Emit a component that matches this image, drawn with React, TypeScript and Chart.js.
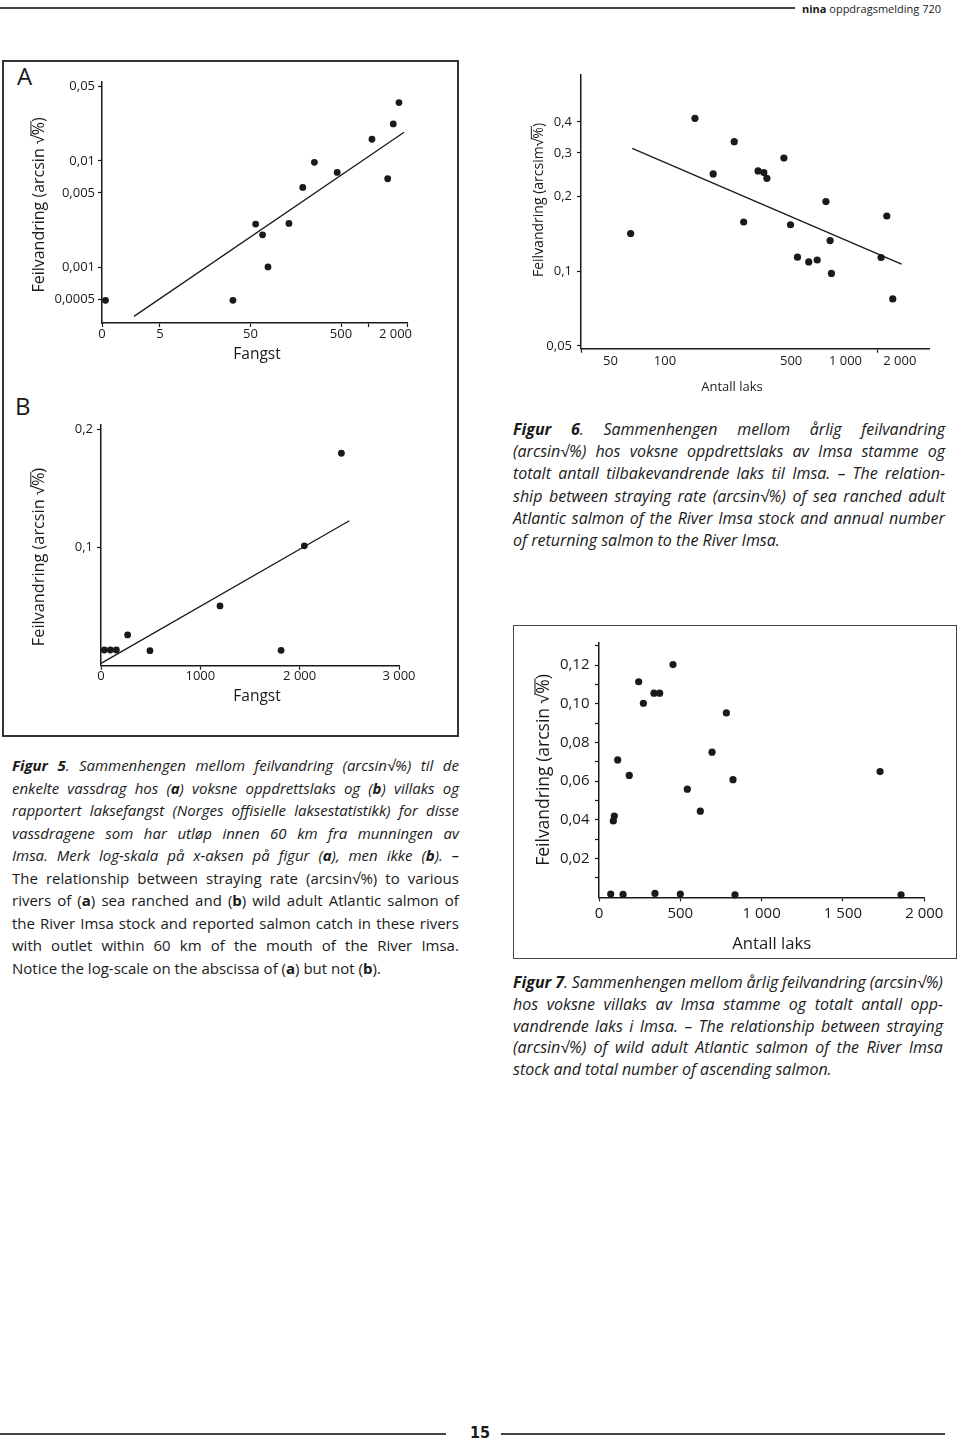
import React, { useEffect, useRef } from 'react';
import { Chart, registerables } from 'chart.js';

Chart.register(...registerables);

const FONT = '"Open Sans", "Noto Sans", "DejaVu Sans", sans-serif';
const INK = '#1a1a1a';
Chart.defaults.font.family = FONT;
Chart.defaults.color = INK;

// ---------------- Figur 5 (a): log–log ----------------
const A_CATCH = [1.25, 32, 57, 68, 78, 133, 189, 254, 454, 1099, 1640, 1890, 2185];
const A_STRAY = [0.00049, 0.00049, 0.00255, 0.00202, 0.00101, 0.00259, 0.00564, 0.0097, 0.0078, 0.016, 0.0068, 0.0223, 0.0354];
const A_FIT_X = [2.58, 2487];
const A_FIT_Y = [0.000346, 0.0186];
const A_X_RANGE: [number, number] = [1.144, 2680];
const A_Y_RANGE: [number, number] = [0.000328, 0.0552];
const A_X_TICKS = [1.144, 5, 50, 500, 1000, 2000, 2680];
const A_X_LABELS = ['0', '5', '50', '500', '', '2 000', ''];
const A_X_NOMARK = [2000];
const A_Y_TICKS = [0.0005, 0.001, 0.005, 0.01, 0.05];
const A_Y_LABELS = ['0,0005', '0,001', '0,005', '0,01', '0,05'];

// ---------------- Figur 5 (b): linear ----------------
const B_CATCH = [33, 94, 154, 268, 493, 1198, 1813, 2047, 2420];
const B_STRAY = [0.0133, 0.0133, 0.0133, 0.026, 0.0127, 0.0506, 0.013, 0.1014, 0.1797];
const B_FIT_X = [0, 2500];
const B_FIT_Y = [0.002, 0.1226];
const B_X_RANGE: [number, number] = [0, 3000];
const B_Y_RANGE: [number, number] = [0, 0.2036];
const B_X_TICKS = [0, 1000, 2000, 3000];
const B_X_LABELS = ['0', '1000', '2 000', '3 000'];
const B_Y_TICKS = [0.1, 0.2];
const B_Y_LABELS = ['0,1', '0,2'];

// ---------------- Figur 6: log–log ----------------
const F6_RETURNS = [64.6, 146.6, 185, 242, 273, 328, 353, 367, 456, 496, 542, 626, 697, 779, 822, 836, 1574, 1693, 1827];
const F6_STRAY = [0.142, 0.414, 0.247, 0.333, 0.158, 0.254, 0.25, 0.237, 0.286, 0.154, 0.114, 0.109, 0.111, 0.191, 0.133, 0.098, 0.1136, 0.167, 0.0773];
const F6_FIT_X = [65.9, 2042];
const F6_FIT_Y = [0.313, 0.1069];
const F6_X_RANGE: [number, number] = [34.3, 2900];
const F6_Y_RANGE: [number, number] = [0.0487, 0.62];
const F6_X_TICKS = [34.3, 50, 100, 500, 1000, 1500, 2000];
const F6_X_LABELS = ['', '50', '100', '500', '1 000', '', '2 000'];
const F6_X_NOMARK = [50, 100, 500, 1000, 2000];
const F6_Y_TICKS = [0.05, 0.1, 0.2, 0.3, 0.4];
const F6_Y_LABELS = ['0,05', '0,1', '0,2', '0,3', '0,4'];

// ---------------- Figur 7: linear ----------------
const F7_RETURNS = [72, 148, 344, 500, 836, 1857, 88, 94, 115, 186, 244, 273, 338, 373, 455, 543, 623, 695, 783, 824, 1728];
const F7_STRAY = [0.0017, 0.0015, 0.002, 0.0017, 0.0013, 0.0013, 0.0395, 0.042, 0.071, 0.063, 0.1114, 0.1003, 0.1055, 0.1055, 0.1203, 0.0559, 0.0445, 0.075, 0.0953, 0.0608, 0.065];
const F7_X_RANGE: [number, number] = [0, 2000];
const F7_Y_RANGE: [number, number] = [0, 0.1317];
const F7_X_TICKS = [0, 500, 1000, 1500, 2000];
const F7_X_LABELS = ['0', '500', '1 000', '1 500', '2 000'];
const F7_Y_TICKS = [0.01, 0.02, 0.03, 0.04, 0.05, 0.06, 0.07, 0.08, 0.09, 0.1, 0.11, 0.12, 0.13];
const F7_Y_LABELS = ['', '0,02', '', '0,04', '', '0,06', '', '0,08', '', '0,10', '', '0,12', ''];

// ---------------- Captions ----------------
type CapLine = { t: string; i: boolean; j: boolean };
const FIG5_LINES: CapLine[] = [
  { t: '**Figur 5**. Sammenhengen mellom feilvandring (arcsin√%) til de', i: true, j: true },
  { t: 'enkelte vassdrag hos (**a**) voksne oppdrettslaks og (**b**) villaks og', i: true, j: true },
  { t: 'rapportert laksefangst (Norges offisielle laksestatistikk) for disse', i: true, j: true },
  { t: 'vassdragene som har utløp innen 60 km fra munningen av', i: true, j: true },
  { t: 'Imsa. Merk log-skala på x-aksen på figur (**a**), men ikke (**b**). –', i: true, j: true },
  { t: 'The relationship between straying rate (arcsin√%) to various', i: false, j: true },
  { t: 'rivers of (**a**) sea ranched and (**b**) wild adult Atlantic salmon of', i: false, j: true },
  { t: 'the River Imsa stock and reported salmon catch in these rivers', i: false, j: true },
  { t: 'with outlet within 60 km of the mouth of the River Imsa.', i: false, j: true },
  { t: 'Notice the log-scale on the abscissa of (**a**) but not (**b**).', i: false, j: false },
];
const FIG6_LINES: CapLine[] = [
  { t: '**Figur 6**. Sammenhengen mellom årlig feilvandring', i: true, j: true },
  { t: '(arcsin√%) hos voksne oppdrettslaks av Imsa stamme og', i: true, j: true },
  { t: 'totalt antall tilbakevandrende laks til Imsa. – The relation-', i: true, j: true },
  { t: 'ship between straying rate (arcsin√%) of sea ranched adult', i: true, j: true },
  { t: 'Atlantic salmon of the River Imsa stock and annual number', i: true, j: true },
  { t: 'of returning salmon to the River Imsa.', i: true, j: false },
];
const FIG7_LINES: CapLine[] = [
  { t: '**Figur 7**. Sammenhengen mellom årlig feilvandring (arcsin√%)', i: true, j: true },
  { t: 'hos voksne villaks av Imsa stamme og totalt antall opp-', i: true, j: true },
  { t: 'vandrende laks i Imsa. – The relationship between straying', i: true, j: true },
  { t: '(arcsin√%) of wild adult Atlantic salmon of the River Imsa', i: true, j: true },
  { t: 'stock and total number of ascending salmon.', i: true, j: false },
];

// ---------------- Chart helpers ----------------
type Title = { text: string; x: number; y: number; size: number; rotate?: boolean };

function titlePlugin(items: Title[]) {
  return {
    id: 'pageTitles',
    afterDraw(chart: any) {
      const ctx = chart.ctx as CanvasRenderingContext2D;
      for (const it of items) {
        ctx.save();
        ctx.fillStyle = INK;
        ctx.strokeStyle = INK;
        ctx.font = `${it.size}px ${FONT}`;
        ctx.textBaseline = 'alphabetic';
        ctx.translate(it.x, it.y);
        if (it.rotate) ctx.rotate(-Math.PI / 2);
        const base = it.size * 0.36;
        const idx = it.text.indexOf('√');
        if (idx >= 0) {
          const a = it.text.slice(0, idx + 1);
          const b = it.text.slice(idx + 1, idx + 2);
          const c = it.text.slice(idx + 2);
          const wa = ctx.measureText(a).width;
          const wb = ctx.measureText(b).width;
          const wc = ctx.measureText(c).width;
          const x0 = -(wa + wb + wc) / 2;
          ctx.textAlign = 'left';
          ctx.fillText(a, x0, base);
          ctx.fillText(b, x0 + wa, base);
          ctx.fillText(c, x0 + wa + wb, base);
          ctx.lineWidth = Math.max(1, it.size * 0.06);
          const oy = base - it.size * 0.8;
          ctx.beginPath();
          ctx.moveTo(x0 + wa - 0.8, oy);
          ctx.lineTo(x0 + wa + wb + 1, oy);
          ctx.stroke();
        } else {
          ctx.textAlign = 'center';
          ctx.fillText(it.text, 0, base);
        }
        ctx.restore();
      }
    },
  };
}

type Spec = {
  xs: number[]; ys: number[]; fitX?: number[]; fitY?: number[];
  xLog: boolean; yLog: boolean;
  xRange: [number, number]; yRange: [number, number];
  xTicks: number[]; xLabels: string[]; xNoMark?: number[];
  yTicks: number[]; yLabels: string[];
  w: number; h: number; area: [number, number, number, number];
  xFont: number; yFont: number; xTl: number; yTl: number; xPad: number; yPad: number;
  r: number; titles: Title[];
};

function buildConfig(s: Spec): any {
  const [l, t, r, b] = s.area;
  const datasets: any[] = [{
    data: s.xs.map((x, i) => ({ x, y: s.ys[i] })),
    pointRadius: s.r,
    pointBackgroundColor: INK,
    pointBorderWidth: 0,
    showLine: false,
    clip: false,
  }];
  if (s.fitX && s.fitY) {
    datasets.push({
      data: s.fitX.map((x, i) => ({ x, y: (s.fitY as number[])[i] })),
      showLine: true,
      borderColor: INK,
      borderWidth: 1.3,
      pointRadius: 0,
      fill: false,
      clip: false,
    });
  }
  return {
    type: 'scatter',
    data: { datasets },
    options: {
      animation: false,
      responsive: false,
      devicePixelRatio: 1,
      events: [],
      layout: { padding: { top: t, right: s.w - r, left: 0, bottom: 0 } },
      plugins: { legend: { display: false }, tooltip: { enabled: false } },
      scales: {
        x: {
          type: s.xLog ? 'logarithmic' : 'linear',
          position: 'bottom',
          min: s.xRange[0],
          max: s.xRange[1],
          afterBuildTicks: (sc: any) => { sc.ticks = s.xTicks.map((v) => ({ value: v })); },
          afterFit: (sc: any) => { sc.height = s.h - b; },
          ticks: {
            autoSkip: false, maxRotation: 0, minRotation: 0, padding: s.xPad,
            font: { size: s.xFont }, color: INK,
            callback: (_v: any, i: number) => s.xLabels[i] ?? '',
          },
          grid: {
            display: true, drawOnChartArea: false, drawTicks: true,
            tickLength: s.xTl, tickWidth: 1.2,
            tickColor: (c: any) => (s.xNoMark && c.tick && s.xNoMark.includes(c.tick.value)) ? 'rgba(0,0,0,0)' : INK,
          },
          border: { display: true, color: INK, width: 1.5 },
        },
        y: {
          type: s.yLog ? 'logarithmic' : 'linear',
          position: 'left',
          min: s.yRange[0],
          max: s.yRange[1],
          afterBuildTicks: (sc: any) => { sc.ticks = s.yTicks.map((v) => ({ value: v })); },
          afterFit: (sc: any) => { sc.width = l; },
          ticks: {
            autoSkip: false, padding: s.yPad,
            font: { size: s.yFont }, color: INK,
            callback: (_v: any, i: number) => s.yLabels[i] ?? '',
          },
          grid: {
            display: true, drawOnChartArea: false, drawTicks: true,
            tickLength: s.yTl, tickWidth: 1.2, tickColor: INK,
          },
          border: { display: true, color: INK, width: 1.5 },
        },
      },
    },
    plugins: [titlePlugin(s.titles)],
  };
}

function ChartCanvas({ left, top, spec }: { left: number; top: number; spec: Spec }) {
  const ref = useRef<HTMLCanvasElement>(null);
  useEffect(() => {
    const chart = new Chart(ref.current as HTMLCanvasElement, buildConfig(spec));
    return () => chart.destroy();
  }, []);
  return (
    <canvas
      ref={ref}
      width={spec.w}
      height={spec.h}
      style={{ position: 'absolute', left, top, width: spec.w, height: spec.h }}
    />
  );
}

// ---------------- Chart specs ----------------
const SPEC_A: Spec = {
  xs: A_CATCH, ys: A_STRAY, fitX: A_FIT_X, fitY: A_FIT_Y,
  xLog: true, yLog: true, xRange: A_X_RANGE, yRange: A_Y_RANGE,
  xTicks: A_X_TICKS, xLabels: A_X_LABELS, xNoMark: A_X_NOMARK,
  yTicks: A_Y_TICKS, yLabels: A_Y_LABELS,
  w: 450, h: 315, area: [97, 19, 402, 260],
  xFont: 13, yFont: 13, xTl: 4, yTl: 4, xPad: -0.5, yPad: 3,
  r: 3.4,
  titles: [
    { text: 'Feilvandring (arcsin √%)', x: 33, y: 142, size: 16, rotate: true },
    { text: 'Fangst', x: 252, y: 290, size: 15.5 },
  ],
};

const SPEC_B: Spec = {
  xs: B_CATCH, ys: B_STRAY, fitX: B_FIT_X, fitY: B_FIT_Y,
  xLog: false, yLog: false, xRange: B_X_RANGE, yRange: B_Y_RANGE,
  xTicks: B_X_TICKS, xLabels: B_X_LABELS,
  yTicks: B_Y_TICKS, yLabels: B_Y_LABELS,
  w: 450, h: 340, area: [96, 35, 394, 275.7],
  xFont: 13, yFont: 13, xTl: 4, yTl: 4, xPad: -1.5, yPad: 4,
  r: 3.4,
  titles: [
    { text: 'Feilvandring (arcsin √%)', x: 33, y: 167, size: 16.3, rotate: true },
    { text: 'Fangst', x: 252, y: 305, size: 15.5 },
  ],
};

const SPEC_6: Spec = {
  xs: F6_RETURNS, ys: F6_STRAY, fitX: F6_FIT_X, fitY: F6_FIT_Y,
  xLog: true, yLog: true, xRange: F6_X_RANGE, yRange: F6_Y_RANGE,
  xTicks: F6_X_TICKS, xLabels: F6_X_LABELS, xNoMark: F6_X_NOMARK,
  yTicks: F6_Y_TICKS, yLabels: F6_Y_LABELS,
  w: 450, h: 335, area: [76, 5, 424, 286.7],
  xFont: 13, yFont: 13, xTl: 4, yTl: 4, xPad: 1, yPad: 5,
  r: 3.6,
  titles: [
    { text: 'Feilvandring (arcsim√%)', x: 32.5, y: 138, size: 14, rotate: true },
    { text: 'Antall laks', x: 227, y: 324, size: 13 },
  ],
};

const SPEC_7: Spec = {
  xs: F7_RETURNS, ys: F7_STRAY,
  xLog: false, yLog: false, xRange: F7_X_RANGE, yRange: F7_Y_RANGE,
  xTicks: F7_X_TICKS, xLabels: F7_X_LABELS,
  yTicks: F7_Y_TICKS, yLabels: F7_Y_LABELS,
  w: 438, h: 328, area: [83, 7, 408.3, 269.3],
  xFont: 15, yFont: 15, xTl: 4, yTl: 4, xPad: 3, yPad: 5.5,
  r: 3.6,
  titles: [
    { text: 'Feilvandring (arcsin √%)', x: 26.7, y: 142, size: 17.5, rotate: true },
    { text: 'Antall laks', x: 255.7, y: 315, size: 16.7 },
  ],
};

// ---------------- Caption rendering ----------------
type Seg = { text: string; bold: boolean };
function parseLine(t: string): Seg[][] {
  const segs = t.split('**');
  const words: Seg[][] = [[]];
  segs.forEach((seg, si) => {
    const bold = si % 2 === 1;
    seg.split(' ').forEach((p, pi) => {
      if (pi > 0) words.push([]);
      if (p) words[words.length - 1].push({ text: p, bold });
    });
  });
  return words.filter((w) => w.length > 0);
}

function Word({ segs }: { segs: Seg[] }) {
  return (
    <span>
      {segs.map((s, k) => (s.bold ? <b key={k} style={{ fontWeight: 700 }}>{s.text}</b> : <span key={k}>{s.text}</span>))}
    </span>
  );
}

function Caption({ lines, left, top, width, size, lh }: { lines: CapLine[]; left: number; top: number; width: number; size: number; lh: number }) {
  return (
    <div style={{ position: 'absolute', left, top, width, fontSize: size, fontFamily: FONT, color: INK }}>
      {lines.map((ln, i) => {
        const words = parseLine(ln.t);
        const common: React.CSSProperties = {
          height: lh, lineHeight: `${lh}px`, whiteSpace: 'nowrap',
          fontStyle: ln.i ? 'italic' : 'normal',
        };
        if (ln.j) {
          return (
            <div key={i} style={{ ...common, display: 'flex', justifyContent: 'space-between' }}>
              {words.map((w, k) => <Word key={k} segs={w} />)}
            </div>
          );
        }
        return (
          <div key={i} style={common}>
            {words.map((w, k) => (
              <React.Fragment key={k}>{k > 0 ? ' ' : ''}<Word segs={w} /></React.Fragment>
            ))}
          </div>
        );
      })}
    </div>
  );
}

export default function App() {
  return (
    <div style={{ position: 'absolute', left: 0, top: 0, width: 960, height: 1442, background: '#fff', overflow: 'hidden', fontFamily: FONT, color: INK }}>
      {/* header */}
      <div style={{ position: 'absolute', left: 0, top: 7, width: 795, height: 2, background: '#444' }} />
      <div style={{ position: 'absolute', right: 19, top: 3, fontSize: 11, lineHeight: 1, whiteSpace: 'nowrap' }}>
        <b style={{ fontWeight: 700 }}>nina</b> oppdragsmelding 720
      </div>

      {/* Figur 5 frame */}
      <div style={{ position: 'absolute', left: 2, top: 60, width: 457, height: 677, border: '2px solid #333', boxSizing: 'border-box' }} />
      <div style={{ position: 'absolute', left: 17, top: 64, fontSize: 24, lineHeight: 1 }}>A</div>
      <div style={{ position: 'absolute', left: 15, top: 394, fontSize: 24, lineHeight: 1 }}>B</div>
      <ChartCanvas left={5} top={63} spec={SPEC_A} />
      <ChartCanvas left={5} top={390} spec={SPEC_B} />

      {/* Figur 6 */}
      <ChartCanvas left={505} top={62} spec={SPEC_6} />

      {/* Figur 7 frame */}
      <div style={{ position: 'absolute', left: 513, top: 625, width: 444, height: 334, border: '1.5px solid #444', boxSizing: 'border-box' }} />
      <ChartCanvas left={516} top={628} spec={SPEC_7} />

      {/* captions */}
      <Caption lines={FIG5_LINES} left={12} top={754} width={447} size={15} lh={22.5} />
      <Caption lines={FIG6_LINES} left={513} top={417.7} width={432} size={16} lh={22.3} />
      <Caption lines={FIG7_LINES} left={513} top={972.2} width={430} size={16} lh={21.75} />

      {/* footer */}
      <div style={{ position: 'absolute', left: 0, top: 1433, width: 446, height: 2, background: '#444' }} />
      <div style={{ position: 'absolute', left: 501, top: 1433, width: 444, height: 2, background: '#444' }} />
      <div style={{ position: 'absolute', left: 460, width: 40, top: 1425, textAlign: 'center', fontSize: 16, lineHeight: 1, fontWeight: 700, fontFamily: '"DejaVu Sans Condensed", "DejaVu Sans", sans-serif' }}>15</div>
    </div>
  );
}
